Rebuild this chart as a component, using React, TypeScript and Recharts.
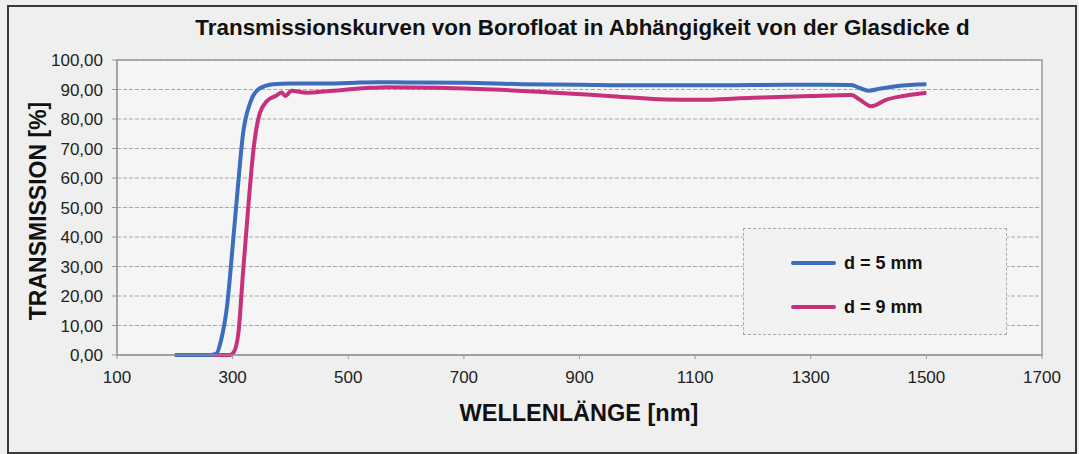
import React from "react";
import { LineChart, Line, XAxis, YAxis, CartesianGrid, ReferenceArea, Label } from "recharts";

const seriesNames = ["d = 5 mm", "d = 9 mm"];
const seriesColors = ["#3d6dbd", "#c8307c"];

const wl5 = [200, 260, 272, 280, 290, 301, 310, 318, 330, 347, 370, 400, 450, 500, 550, 600, 700, 800, 900, 1000, 1100, 1200, 1300, 1370, 1385, 1400, 1420, 1450, 1500];
const tr5 = [0, 0, 0.5, 5, 16, 39, 59, 75, 85.3, 90.4, 91.8, 92, 92, 92.2, 92.5, 92.4, 92.3, 91.8, 91.6, 91.4, 91.4, 91.5, 91.6, 91.5, 90.5, 89.6, 90.3, 91.2, 91.8];

const wl9 = [200, 295, 302, 310, 318, 327, 336, 347, 359, 376, 385, 391, 402, 428, 463, 532, 570, 650, 750, 850, 950, 1050, 1100, 1200, 1300, 1370, 1385, 1405, 1430, 1460, 1500];
const tr9 = [0, 0, 1, 7.5, 28, 50, 69.5, 82, 86, 88, 89, 87.8, 89.6, 88.9, 89.4, 90.5, 90.8, 90.6, 90, 89, 87.8, 86.6, 86.5, 87.2, 87.8, 88.1, 86.5, 84.3, 86.5, 87.8, 88.9];

const xTicks = [100, 300, 500, 700, 900, 1100, 1300, 1500, 1700];
const yTicks = [0, 10, 20, 30, 40, 50, 60, 70, 80, 90, 100];

const title = "Transmissionskurven von Borofloat in Abhängigkeit von der Glasdicke d";
const xTitle = "WELLENLÄNGE [nm]";
const yTitle = "TRANSMISSION [%]";

const data5 = wl5.map((w, i) => ({ wl: w, t: tr5[i] }));
const data9 = wl9.map((w, i) => ({ wl: w, t: tr9[i] }));

const FONT = "'Liberation Sans', Arial, sans-serif";

export default function App() {
  return (
    <div style={{ position: "absolute", left: 0, top: 0, width: 1079, height: 454, background: "#efefef", fontFamily: FONT, overflow: "hidden" }}>
      <div style={{ position: "absolute", left: 7, top: 5, width: 1066, height: 445, border: "2px solid #3a3a3a", boxSizing: "content-box" }} />
      <div style={{ position: "absolute", left: 0, top: 15, width: 1165, textAlign: "center", fontWeight: "bold", fontSize: 22.4, color: "#111", whiteSpace: "nowrap" }}>{title}</div>
      <div style={{ position: "absolute", left: 0, top: 0 }}>
        <LineChart width={1079} height={454} margin={{ top: 60, right: 37, left: 57, bottom: 69 }}>
          <CartesianGrid horizontal vertical={false} stroke="#a8a8a8" strokeDasharray="4 2" fill="#f5f5f5" />
          <XAxis
            type="number"
            dataKey="wl"
            domain={[100, 1700]}
            ticks={xTicks}
            allowDataOverflow
            height={30}
            stroke="#999"
            tickSize={4}
            tickMargin={12}
            tick={{ fill: "#222", fontSize: 17, fontFamily: FONT }}
          >
            <Label
              content={() => (
                <text x={579} y={413} textAnchor="middle" dominantBaseline="central" fontWeight="bold" fontSize={23.5} fill="#111" fontFamily={FONT}>{xTitle}</text>
              )}
            />
          </XAxis>
          <YAxis
            type="number"
            domain={[0, 100]}
            ticks={yTicks}
            width={60}
            stroke="#999"
            tickSize={5}
            tickMargin={9}
            tickFormatter={(v: number) => v.toFixed(2).replace(".", ",")}
            tick={{ fill: "#222", fontSize: 17, fontFamily: FONT }}
          >
            <Label
              content={() => (
                <text x={38} y={211} transform="rotate(-90 38 211)" textAnchor="middle" dominantBaseline="central" fontWeight="bold" fontSize={23} fill="#111" fontFamily={FONT}>{yTitle}</text>
              )}
            />
          </YAxis>
          <ReferenceArea x1={100} x2={1700} y1={0} y2={100} fill="none" fillOpacity={0} stroke="#999" strokeWidth={1.5} ifOverflow="visible" />
          <Line data={data9} dataKey="t" type="monotone" stroke={seriesColors[1]} strokeWidth={4} dot={false} isAnimationActive={false} name={seriesNames[1]} />
          <Line data={data5} dataKey="t" type="monotone" stroke={seriesColors[0]} strokeWidth={4} dot={false} isAnimationActive={false} name={seriesNames[0]} />
        </LineChart>
      </div>
      <div style={{ position: "absolute", left: 743, top: 228, width: 262, height: 105, border: "1px dashed #aaa", background: "#f2f2f2" }}>
        {seriesNames.map((n, i) => (
          <div key={n} style={{ position: "absolute", left: 47, top: i === 0 ? 22 : 66, display: "flex", alignItems: "center", height: 24 }}>
            <div style={{ width: 45, height: 4, borderRadius: 2, background: seriesColors[i], marginRight: 8 }} />
            <span style={{ fontWeight: "bold", fontSize: 18, color: "#111", whiteSpace: "nowrap" }}>{n}</span>
          </div>
        ))}
      </div>
    </div>
  );
}
